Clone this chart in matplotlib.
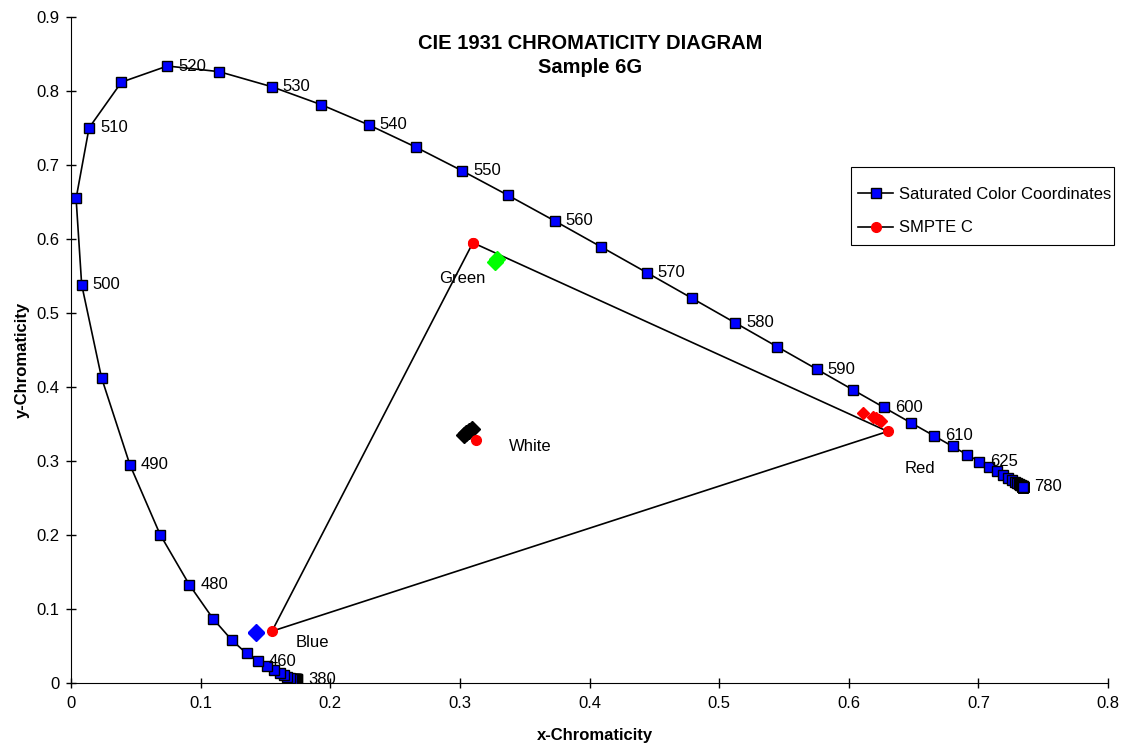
import numpy as np
import matplotlib
matplotlib.use("Agg")
import matplotlib.pyplot as plt
from matplotlib.patches import Rectangle

plt.rcParams['font.family'] = ['Liberation Sans', 'DejaVu Sans']

# spectral locus, CIE 1931 2 deg, 5 nm steps
wavelengths = list(range(380, 785, 5))
locus_x = [0.1741, 0.1740, 0.1738, 0.1736, 0.1733, 0.1730, 0.1726, 0.1721, 0.1714, 0.1703,
           0.1689, 0.1669, 0.1644, 0.1611, 0.1566, 0.1510, 0.1440, 0.1355, 0.1241, 0.1096,
           0.0913, 0.0687, 0.0454, 0.0235, 0.0082, 0.0039, 0.0139, 0.0389, 0.0743, 0.1142,
           0.1547, 0.1929, 0.2296, 0.2658, 0.3016, 0.3373, 0.3731, 0.4087, 0.4441, 0.4788,
           0.5125, 0.5448, 0.5752, 0.6029, 0.6270, 0.6482, 0.6658, 0.6801, 0.6915, 0.7006,
           0.7079, 0.7140, 0.7190, 0.7230, 0.7260, 0.7283, 0.7300, 0.7311, 0.7320, 0.7327,
           0.7334, 0.7340, 0.7344, 0.7346, 0.7347, 0.7347, 0.7347, 0.7347, 0.7347, 0.7347,
           0.7347, 0.7347, 0.7347, 0.7347, 0.7347, 0.7347, 0.7347, 0.7347, 0.7347, 0.7347,
           0.7347]
locus_y = [0.0050, 0.0050, 0.0049, 0.0049, 0.0048, 0.0048, 0.0048, 0.0048, 0.0051, 0.0058,
           0.0069, 0.0086, 0.0109, 0.0138, 0.0177, 0.0227, 0.0297, 0.0399, 0.0578, 0.0868,
           0.1327, 0.2007, 0.2950, 0.4127, 0.5384, 0.6548, 0.7502, 0.8120, 0.8338, 0.8262,
           0.8059, 0.7816, 0.7543, 0.7243, 0.6923, 0.6589, 0.6245, 0.5896, 0.5547, 0.5202,
           0.4866, 0.4544, 0.4242, 0.3965, 0.3725, 0.3514, 0.3340, 0.3197, 0.3083, 0.2993,
           0.2920, 0.2859, 0.2809, 0.2770, 0.2740, 0.2717, 0.2700, 0.2689, 0.2680, 0.2673,
           0.2666, 0.2660, 0.2656, 0.2654, 0.2653, 0.2653, 0.2653, 0.2653, 0.2653, 0.2653,
           0.2653, 0.2653, 0.2653, 0.2653, 0.2653, 0.2653, 0.2653, 0.2653, 0.2653, 0.2653,
           0.2653]
labeled_nm = [380, 460, 480, 490, 500, 510, 520, 530, 540, 550, 560, 570, 580, 590,
              600, 610, 625, 780]

# SMPTE C primaries (closed triangle G-R-B-G) and white point
smpte_x = [0.310, 0.630, 0.155, 0.310]
smpte_y = [0.595, 0.340, 0.070, 0.595]
white_x = [0.3127]
white_y = [0.3290]

# measured sample 6G points
green_x = [0.3285, 0.3272]
green_y = [0.5735, 0.5690]
blue_x = [0.1430, 0.1425]
blue_y = [0.0690, 0.0680]
white_meas_x = [0.3030, 0.3050, 0.3070, 0.3090]
white_meas_y = [0.3355, 0.3380, 0.3405, 0.3430]
red_meas_x = [0.6110, 0.6190, 0.6210, 0.6230, 0.6250]
red_meas_y = [0.3650, 0.3590, 0.3575, 0.3560, 0.3545]

corner_names = ['Green', 'Blue', 'Red', 'White']
corner_pos = [(0.284, 0.546), (0.1735, 0.0554), (0.643, 0.2905), (0.3377, 0.320)]

fig = plt.figure(figsize=(11.33, 7.5), dpi=100)
ax = fig.add_axes([0.0627, 0.0893, 0.9153, 0.888])

ax.plot(locus_x, locus_y, color='black', lw=1.2, marker='s', ms=7,
        mfc='#0000FF', mec='black', mew=1.0, label='Saturated Color Coordinates', zorder=3)
ax.plot(smpte_x, smpte_y, color='black', lw=1.2, marker='o', ms=7,
        mfc='#FF0000', mec='#FF0000', label='SMPTE C', zorder=4)
ax.plot(white_x, white_y, ls='none', marker='o', ms=7, mfc='#FF0000', mec='#FF0000', zorder=5)

ax.plot(green_x, green_y, ls='none', marker='D', ms=8, mfc='#00FF00', mec='#00FF00', zorder=4)
ax.plot(blue_x, blue_y, ls='none', marker='D', ms=8, mfc='#0000FF', mec='#0000FF', zorder=4)
ax.plot(white_meas_x, white_meas_y, ls='none', marker='D', ms=8, mfc='black', mec='black', zorder=4)
ax.plot(red_meas_x, red_meas_y, ls='none', marker='D', ms=6, mfc='#FF0000', mec='#FF0000', zorder=4)

for nm in labeled_nm:
    i = wavelengths.index(nm)
    ax.annotate(str(nm), (locus_x[i], locus_y[i]), xytext=(8, 0), textcoords='offset points',
                ha='left', va='center', fontsize=12, zorder=6)

for name, (tx, ty) in zip(corner_names, corner_pos):
    ax.text(tx, ty, name, ha='left', va='center', fontsize=12)

ax.set_xlim(0, 0.8)
ax.set_ylim(0, 0.9)
ax.set_xticks(np.arange(0, 0.81, 0.1))
ax.set_yticks(np.arange(0, 0.91, 0.1))
ax.set_xticklabels(['0', '0.1', '0.2', '0.3', '0.4', '0.5', '0.6', '0.7', '0.8'])
ax.set_yticklabels(['0', '0.1', '0.2', '0.3', '0.4', '0.5', '0.6', '0.7', '0.8', '0.9'])
ax.tick_params(direction='inout', length=7, width=1, labelsize=12)
ax.tick_params(axis='y', pad=5)
ax.tick_params(axis='x', pad=6)
for side in ['top', 'right']:
    ax.spines[side].set_visible(False)

ax.set_xlabel('x-Chromaticity', fontsize=12, fontweight='bold')
ax.set_ylabel('y-Chromaticity', fontsize=12, fontweight='bold')
ax.xaxis.set_label_coords(0.505, -0.0676)
ax.yaxis.set_label_coords(-0.0395, 0.485)

fig.text(0.521, 0.926, 'CIE 1931 CHROMATICITY DIAGRAM\nSample 6G', ha='center', va='center',
         fontsize=14.5, fontweight='bold', linespacing=1.28)

# legend box drawn separately so its padding can match the original
ax.add_patch(Rectangle((0.7511, 0.6733), 0.2321, 0.104, transform=fig.transFigure,
                       facecolor='white', edgecolor='black', lw=0.8, zorder=9, clip_on=False))
leg = ax.legend(loc='upper left', bbox_to_anchor=(0.7573, 0.751), bbox_transform=fig.transFigure,
                fontsize=12, frameon=False, handlelength=2.1, labelspacing=1.12,
                borderpad=0, handletextpad=0.35, borderaxespad=0)
leg.set_zorder(10)

fig.savefig('out.png', dpi=100)
